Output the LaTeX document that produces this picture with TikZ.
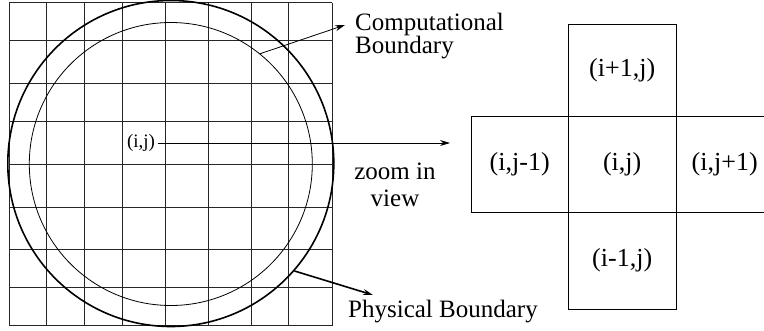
\documentclass[tikz,border=0pt]{standalone}
\usepackage{fontspec}
\setmainfont{Liberation Serif}
\usetikzlibrary{arrows.meta,positioning}

\begin{document}
\begin{tikzpicture}[x=1pt, y=-1pt,
    mesh/.style={line width=0.8pt, black!85},
    cell/.style={rectangle, draw, line width=0.8pt, inner sep=0pt, outer sep=0pt,
        font=\fontsize{26}{28}\selectfont},
    lbl/.style={inner sep=0pt, font=\fontsize{25}{20}\selectfont, align=left},
    arr/.style={-{Stealth[length=10pt, width=6pt]}, line width=0.8pt}
]
    \useasboundingbox (0,0) rectangle (764,330);

    % mesh
    \foreach \x in {9.3,46.7,84.3,122.3,165.7,208.7,251,288.7,332.3}
        \draw[mesh] (\x,2.7) -- (\x,325.7);
    \foreach \y in {2.7,40.3,83.7,121.7,164,207,249.3,287.3,325.7}
        \draw[mesh] (9.3,\y) -- (332.3,\y);

    \node[circle, draw, line width=1.6pt, minimum size=326pt, inner sep=0pt] (phys) at (170.8,163.5) {};
    \node[circle, draw, line width=0.8pt, minimum size=283pt, inner sep=0pt] (comp) at (170.8,164) {};

    \node[inner sep=3pt, font=\fontsize{19}{21}\selectfont] (gridij) at (141,143) {(i,j)};
    \coordinate (zoomtip) at (450,143);
    \draw[arr] (gridij) -- (zoomtip);
    \node[lbl, align=center, font=\fontsize{25}{27.4}\selectfont, anchor=north] (zoomlbl) at (395,162.5) {zoom in\\view};

    \coordinate (comptip) at (345,25);
    \node[lbl, anchor=north west] (complbl) at (355,12.5) {Computational\\Boundary};
    \draw[arr] (comp.51) -- (comptip);

    \coordinate (phystip) at (373,295);
    \node[lbl, anchor=base west] (physlbl) at (348,317) {Physical Boundary};
    \draw[arr, line width=1.6pt] (phys.-41) -- (phystip);

    % zoomed stencil
    \node[cell, minimum width=108pt, minimum height=96pt] (ij) at (622.2,164.2) {(i,j)};
    \node[cell, minimum width=108pt, minimum height=92pt, above=0pt of ij] (ip) {(i+1,j)};
    \node[cell, minimum width=108pt, minimum height=97pt, below=0pt of ij] (im) {(i-1,j)};
    \node[cell, minimum width=97pt, minimum height=96pt, left=0pt of ij] (jm) {(i,j-1)};
    \node[cell, minimum width=97pt, minimum height=96pt, right=0pt of ij] (jp) {(i,j+1)};
\end{tikzpicture}
\end{document}
